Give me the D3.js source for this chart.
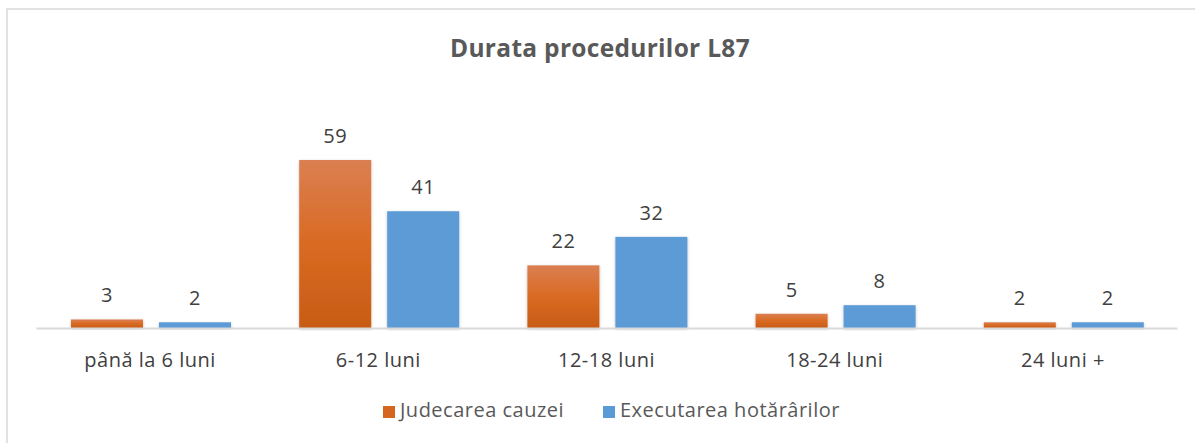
<!DOCTYPE html>
<html><head><meta charset="utf-8">
<script src="https://cdn.jsdelivr.net/npm/d3@7"></script>
<style>body{margin:0;background:#fff}svg{display:block}</style>
</head><body>
<svg id="c" width="1195" height="443"></svg>
<script>
const categories = ["până la 6 luni","6-12 luni","12-18 luni","18-24 luni","24 luni +"];
const judecarea = [3,59,22,5,2];
const executarea = [2,41,32,8,2];
const seriesNames = ["Judecarea cauzei","Executarea hotărârilor"];
const title = "Durata procedurilor L87";

const font = "'Open Sans', sans-serif";
const svg = d3.select("#c");
const W = 1195, H = 443;

const defs = svg.append("defs");
const g1 = defs.append("linearGradient").attr("id","og").attr("x1",0).attr("y1",0).attr("x2",0).attr("y2",1);
g1.append("stop").attr("offset","0%").attr("stop-color","#db7f52");
g1.append("stop").attr("offset","50%").attr("stop-color","#d96a22");
g1.append("stop").attr("offset","100%").attr("stop-color","#c85c16");
const f = defs.append("filter").attr("id","sh").attr("x","-20%").attr("y","-20%").attr("width","140%").attr("height","140%");
f.append("feDropShadow").attr("dx",0).attr("dy",1).attr("stdDeviation",1.5).attr("flood-color","#000").attr("flood-opacity",0.25);

// border
svg.append("rect").attr("x",7).attr("y",9).attr("width",W).attr("height",H).attr("fill","none").attr("stroke","#d9d9d9").attr("stroke-width",1.5);

const x0 = d3.scaleBand().domain(categories).range([36,1177]).paddingInner(0).paddingOuter(0);
const x1 = d3.scaleBand().domain(seriesNames).range([35,195]).paddingInner(0.1818).paddingOuter(0);
const y = d3.scaleLinear().domain([0,59]).range([328,160]);

svg.append("text").attr("x",600).attr("y",57).attr("text-anchor","middle")
  .attr("font-family",font).attr("font-weight","bold").attr("font-size",24.5).attr("letter-spacing",0.3)
  .attr("fill","#595959").text(title);

const data = categories.map((c,i)=>({c, vals:[{s:seriesNames[0],v:judecarea[i]},{s:seriesNames[1],v:executarea[i]}]}));
const fills = {[seriesNames[0]]:"url(#og)", [seriesNames[1]]:"#5b9bd5"};

const grp = svg.append("g").selectAll("g").data(data).join("g").attr("transform",d=>`translate(${x0(d.c)},0)`);
grp.selectAll("rect").data(d=>d.vals).join("rect")
  .attr("x",d=>x1(d.s)).attr("y",d=>y(d.v)).attr("width",x1.bandwidth()).attr("height",d=>y(0)-y(d.v))
  .attr("fill",d=>fills[d.s]).attr("filter","url(#sh)");
grp.selectAll("text").data(d=>d.vals).join("text")
  .attr("x",d=>x1(d.s)+x1.bandwidth()/2).attr("y",d=>y(d.v)-17).attr("text-anchor","middle")
  .attr("font-family",font).attr("font-size",20).attr("letter-spacing",0.5).attr("fill","#404040").text(d=>d.v);

// axis
const ax = svg.append("g").attr("transform",`translate(0,${y(0)})`).call(d3.axisBottom(x0).tickSize(0).tickPadding(25));
ax.select(".domain").attr("stroke","#d9d9d9").attr("stroke-width",2);
ax.selectAll("text").attr("font-family",font).attr("font-size",20).attr("letter-spacing",0.5).attr("fill","#404040");

// legend
const leg = [{s:seriesNames[0],x:383,c:"#d4661f"},{s:seriesNames[1],x:603,c:"#5b9bd5"}];
const lg = svg.append("g").selectAll("g").data(leg).join("g").attr("transform",d=>`translate(${d.x},406)`);
lg.append("rect").attr("width",12).attr("height",12).attr("fill",d=>d.c);
lg.append("text").attr("x",17).attr("y",11).attr("font-family",font).attr("font-size",20).attr("letter-spacing",0.5).attr("fill","#595959").text(d=>d.s);
</script>
</body></html>
